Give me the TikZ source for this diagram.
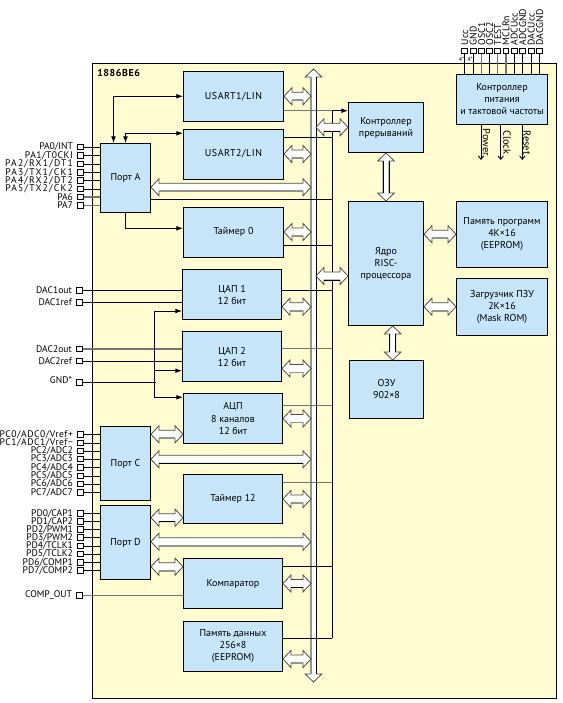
\documentclass[tikz,border=0pt]{standalone}
\usepackage{fontspec}
\setmainfont{PT Sans}
\newfontfamily\trackfont[LetterSpace=5.5]{PT Sans}
\newfontfamily\widefont[LetterSpace=13]{PT Sans}
\usepackage{xcolor}
\usetikzlibrary{arrows.meta,calc,positioning}

\definecolor{chipyellow}{HTML}{FFFCD2}
\definecolor{blockblue}{HTML}{C6E5F8}

\tikzset{
  chipbox/.style={draw, fill=chipyellow, line width=0.7pt},
  blockbox/.style={draw, fill=blockblue, line width=0.7pt, align=center, inner sep=0pt,
    font=\fontsize{7.5}{9}\selectfont},
  boxsize/.style 2 args={minimum width=#1*0.75pt, minimum height=#2*0.75pt},
  pinbox/.style={draw, fill=white, line width=0.7pt, inner sep=0pt, minimum size=4.4pt},
  pinlabel/.style={inner sep=0pt, font=\fontsize{7.2}{8}\selectfont},
  toplabel/.style={inner sep=0pt, rotate=90, anchor=west, font=\fontsize{7.3}{8}\selectfont},
  outlabel/.style={inner sep=0pt, rotate=-90, font=\fontsize{7.8}{8}\selectfont},
  wire/.style={line width=0.7pt},
  graywire/.style={line width=0.9pt, black!55},
  sig/.style={wire, {Latex[length=5pt,width=3.6pt]}-{Latex[length=5pt,width=3.6pt]}},
  sigout/.style={wire, -{Latex[length=5pt,width=3.6pt]}},
  openout/.style={wire, -{Straight Barb[length=2.5pt,width=4pt]}},
  buslow/.style={black!42, line width=1.3pt},
  busdark/.style={black, line width=0.6pt},
}

% block arrow between two points, the optional style is for its lower edge
\newcommand{\hbus}[3][buslow]{
  \draw[fill=white, draw=black!70, line width=0.6pt, line join=miter] let \p1=#2, \p2=#3 in
    (\x1,\y1) -- (\x1+6pt,\y1+6.4pt) -- (\x1+6pt,\y1+3pt) -- (\x2-6pt,\y2+3pt)
    -- (\x2-6pt,\y2+6.4pt) -- (\x2,\y2) -- (\x2-6pt,\y2-6.4pt) -- (\x2-6pt,\y2-3pt)
    -- (\x1+6pt,\y1-3pt) -- (\x1+6pt,\y1-6.4pt) -- cycle;
  \draw[#1] let \p1=#2, \p2=#3 in (\x1+6pt,\y1-3pt) -- (\x2-6pt,\y2-3pt);
}
\newcommand{\vbus}[3][busdark]{
  \draw[fill=white, draw=black!70, line width=0.6pt, line join=miter] let \p1=#2, \p2=#3 in
    (\x1,\y1) -- (\x1+6.2pt,\y1-6pt) -- (\x1+2.2pt,\y1-6pt) -- (\x2+2.2pt,\y2+6pt)
    -- (\x2+6.2pt,\y2+6pt) -- (\x2,\y2) -- (\x2-6.2pt,\y2+6pt) -- (\x2-2.2pt,\y2+6pt)
    -- (\x1-2.2pt,\y1-6pt) -- (\x1-6.2pt,\y1-6pt) -- cycle;
  \draw[#1] let \p1=#2, \p2=#3 in (\x1-2.2pt,\y1-6pt) -- (\x2-2.2pt,\y2+6pt);
  \draw[busdark] let \p1=#2, \p2=#3 in (\x1+2.2pt,\y1-6pt) -- (\x2+2.2pt,\y2+6pt);
}

\begin{document}
\begin{tikzpicture}[x=0.75pt, y=-0.75pt]
  \useasboundingbox (0,0) rectangle (562,703);
  \fill[white] (0,0) rectangle (562,703);

  % Chip outline
  \draw[chipbox] (92.3,63.5) rectangle (556.5,698);
  \node[anchor=west, inner sep=0pt, font=\fontsize{7.5}{9}\selectfont\bfseries\trackfont] (chipname)
    at (97,72.5) {1886BE6};

  % Blocks, left column
  \node[blockbox, boxsize={100}{49.5}] (usart1) at (233.5,96.25) {\trackfont USART1/LIN};
  \node[blockbox, boxsize={100}{50}] (usart2) at (233.5,154) {\trackfont USART2/LIN};
  \node[blockbox, boxsize={100}{50}] (timer0) at (233.5,232) {Таймер 0};
  \node[blockbox, boxsize={99}{50}] (dac1) at (232,294.5) {ЦАП 1\\12 бит};
  \node[blockbox, boxsize={99}{50}] (dac2) at (232,356.5) {ЦАП 2\\12 бит};
  \node[blockbox, boxsize={99}{50}] (adc) at (233,418.5) {АЦП\\8 каналов\\12 бит};
  \node[blockbox, boxsize={99}{49}] (timer12) at (233,499) {Таймер 12};
  \node[blockbox, boxsize={99}{50}] (comp) at (233,583.5) {Компаратор};
  \node[blockbox, boxsize={99}{50}] (datamem) at (233,646.5) {Память данных\\256×8\\(EEPROM)};

  % Ports
  \node[blockbox, boxsize={50}{68.5}] (portA) at (125.5,177.75) {Порт A};
  \node[blockbox, boxsize={50}{74}] (portC) at (125.5,463.5) {Порт C};
  \node[blockbox, boxsize={50}{74}] (portD) at (125.5,542.5) {Порт D};

  % Blocks, right columns
  \node[blockbox, boxsize={75}{50}] (irq) at (386,127.5) {Контроллер\\прерываний};
  \node[blockbox, boxsize={75}{124}] (core) at (386,263.5) {Ядро\\RISC-\\процессора};
  \node[blockbox, boxsize={74}{57.5}] (ram) at (386.5,389.25) {ОЗУ\\902×8};
  \node[blockbox, boxsize={91}{66}] (progmem) at (502,234.5) {Память программ\\4K×16\\(EEPROM)};
  \node[blockbox, boxsize={91}{57}] (loader) at (502,307) {Загрузчик ПЗУ\\2K×16\\(Mask ROM)};
  \node[blockbox, boxsize={91}{50}] (power) at (502,99.5) {Контроллер\\питания\\и тактовой частоты};

  % Port pins
  \foreach \y/\txt/\sty [count=\i] in {147/{PA0/INT}/wire, 155.7/{\trackfont PA1/T0CKI}/wire,
      164/{\widefont PA2/RX1/DT1}/wire, 172.7/{\widefont PA3/TX1/CK1}/wire, 180.7/{\widefont PA4/RX2/DT2}/wire,
      189/{\widefont PA5/TX2/CK2}/wire, 197/{PA6}/graywire, 205.3/{PA7}/graywire} {
    \node[pinbox] (pa\i) at (80.3,\y) {};
    \node[pinlabel, left=2.8pt of pa\i] (pa\i label) {\txt};
    \draw[\sty] (pa\i) -- (pa\i -| portA.west);
  }
  \foreach \y/\txt [count=\i] in {434.3/{\trackfont PC0/ADC0/Vref+}, 443/{\trackfont PC1/ADC1/Vref−},
      451/{PC2/ADC2}, 459/{PC3/ADC3}, 467.3/{PC4/ADC4}, 476/{PC5/ADC5},
      484/{PC6/ADC6}, 492.3/{PC7/ADC7}} {
    \node[pinbox] (pc\i) at (80.3,\y) {};
    \node[pinlabel, left=2.8pt of pc\i] (pc\i label) {\txt};
    \draw[wire] (pc\i) -- (pc\i -| portC.west);
  }
  \foreach \y/\txt [count=\i] in {513.3/{PD0/CAP1}, 521.3/{PD1/CAP2}, 529.3/{PD2/PWM1},
      537.7/{PD3/PWM2}, 546/{PD4/TCLK1}, 554/{PD5/TCLK2}, 562.3/{PD6/COMP1},
      570.7/{PD7/COMP2}} {
    \node[pinbox] (pd\i) at (80.3,\y) {};
    \node[pinlabel, left=2.8pt of pd\i] (pd\i label) {\txt};
    \draw[wire] (pd\i) -- (pd\i -| portD.west);
  }

  % Analog pins
  \foreach \nm/\y/\txt/\blk/\sty in {daconeout/290.3/DAC1out/dac1/wire, daconeref/302.3/DAC1ref/dac1/wire,
      dactwoout/349/DAC2out/dac2/graywire, dactworef/361/DAC2ref/dac2/wire,
      compout/595.3/{COMP\_OUT}/comp/graywire} {
    \node[pinbox] (\nm) at (79.3,\y) {};
    \node[pinlabel, left=2.8pt of \nm] (\nm label) {\txt};
    \draw[\sty] (\nm) -- (\nm -| \blk.west);
  }
  \node[pinbox] (gnd) at (79.3,382.3) {};
  \node[pinlabel, left=2.8pt of gnd, yshift=2pt] (gnd label) {GND*};

  % Reference line
  \coordinate (reftop) at (154.3,311);
  \coordinate (refmid) at (154.3,370.7);
  \draw[wire] (gnd) -- ([xshift=1.5pt]reftop |- gnd);
  \draw[sigout] (reftop) -- (reftop -| dac1.west);
  \draw[sigout] (refmid) -- (refmid -| dac2.west);
  \draw[sigout] (reftop) |- (adc.west |- 0,397.3);

  % Port A signals
  \draw[sig] ([xshift=-9pt]portA.north) |- (usart1.west);
  \draw[sig] (portA.north) |- (usart2.west |- 0,133.3);
  \draw[sigout] (portA.south) |- (timer0.west |- 0,228.3);

  % Main bus
  \coordinate (bustop) at (313.5,69);
  \coordinate (busbot) at (313.5,682);
  \coordinate (busleft) at (311,0);
  \coordinate (busright) at (316,0);
  \vbus[{black!42, line width=1.6pt}]{(bustop)}{(busbot)}

  % Interrupt lines
  \coordinate (ctrltop) at (332.3,110.7);
  \coordinate (ctrlbot) at (332.3,638.3);
  \draw[wire] (ctrltop) -- (ctrlbot);
  \foreach \blk/\y/\sty in {portA/199.3/wire, usart2/137.3/wire, timer0/245.3/wire, dac1/290.3/wire,
      dac2/348.3/graywire, adc/405.7/graywire, timer12/482.3/graywire, comp/566/wire, datamem/638.3/wire} {
    \draw[\sty] (\blk.east |- 0,\y) -- (ctrltop |- 0,\y);
  }
  \draw[graywire] (usart1.east |- ctrltop) -- (ctrltop);
  \draw[sigout] (ctrltop) -- (ctrltop -| irq.west);

  % Block arrows to the bus
  \hbus{(usart1.east)}{(usart1.east -| busleft)}
  \hbus{(usart2.east)}{(usart2.east -| busleft)}
  \hbus{(portA.east |- 0,187.3)}{(busleft |- 0,187.3)}
  \hbus{(timer0.east)}{(timer0.east -| busleft)}
  \hbus{(dac1.east |- 0,306.7)}{(busleft |- 0,306.7)}
  \hbus{(dac2.east |- 0,368.5)}{(busleft |- 0,368.5)}
  \hbus{(adc.east)}{(adc.east -| busleft)}
  \hbus[busdark]{(portC.east |- 0,459.3)}{(busleft |- 0,459.3)}
  \hbus{(timer12.east)}{(timer12.east -| busleft)}
  \hbus{(portD.east |- 0,541.7)}{(busleft |- 0,541.7)}
  \hbus[busdark]{(comp.east)}{(comp.east -| busleft)}
  \hbus{(datamem.east |- 0,659)}{(busleft |- 0,659)}
  \hbus[busdark]{(busright |- 0,127.3)}{(irq.west |- 0,127.3)}
  \hbus[busdark]{(busright |- 0,276)}{(core.west |- 0,276)}

  % Block arrows between ports and blocks
  \hbus{(portC.east |- 0,434.3)}{(adc.west |- 0,434.3)}
  \hbus[busdark]{(portD.east |- 0,517.7)}{(timer12.west |- 0,517.7)}
  \hbus{(portD.east |- 0,566.7)}{(comp.west |- 0,566.7)}

  % Block arrows around the core
  \vbus{(irq.south)}{(core.north)}
  \vbus{(392.7,0 |- core.south)}{(392.7,0 |- ram.north)}
  \hbus{(core.east |- 0,234.3)}{(progmem.west |- 0,234.3)}
  \hbus{(core.east |- 0,306.7)}{(loader.west |- 0,306.7)}

  % Supply and clock pins
  \foreach \x/\txt/\sty [count=\i] in {464.7/Ucc/wire, 473.3/GND/wire, 481.7/OSC1/graywire,
      489.7/OSC2/wire, 497.7/TEST/graywire, 506/MCLRn/graywire, 514.3/ADCUcc/wire,
      522.7/ADCGND/wire, 531.3/DACUcc/wire, 539.7/DACGND/wire} {
    \node[pinbox] (sup\i) at (\x,51) {};
    \node[toplabel] (sup\i label) at (\x,45.5) {\txt};
    \draw[\sty] (sup\i) -- (sup\i |- power.north);
  }
  \node[inner sep=0pt, font=\fontsize{4.5}{5}\selectfont] (ucccount) at (461.5,59.5) {4*};
  \node[inner sep=0pt, font=\fontsize{4.5}{5}\selectfont] (gndcount) at (470,59.5) {4*};

  % Outputs of the power controller
  \foreach \nm/\x/\txt/\lx in {pwr/481/Power/486.5, clk/500.7/Clock/507, rst/522.3/Reset/527} {
    \coordinate (\nm end) at (\x,160);
    \draw[openout] (\nm end |- power.south) -- (\nm end);
    \node[outlabel] (\nm label) at (\lx,142.5) {\txt};
  }
\end{tikzpicture}
\end{document}
